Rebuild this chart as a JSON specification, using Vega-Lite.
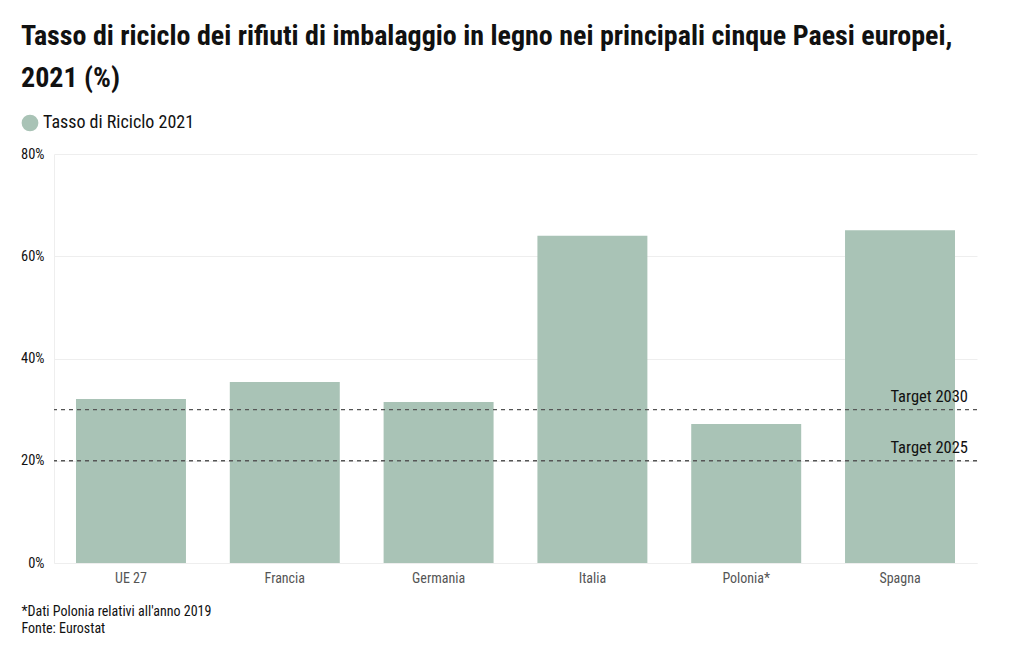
{
  "$schema": "https://vega.github.io/schema/vega-lite/v6.json",
  "width": 923,
  "height": 409,
  "autosize": {"type": "none"},
  "padding": {"left": 54, "top": 154, "right": 43, "bottom": 87},
  "background": "white",
  "config": {
    "font": "Roboto Condensed, Liberation Sans Narrow, DejaVu Sans Condensed, Roboto",
    "view": {"stroke": null}
  },
  "title": {
    "text": ["Tasso di riciclo dei rifiuti di imbalaggio in legno nei principali cinque Paesi europei,", "2021 (%)"],
    "anchor": "start",
    "frame": "group",
    "fontSize": 28,
    "fontWeight": "bold",
    "color": "#111111",
    "lineHeight": 42,
    "dx": -33,
    "offset": 21
  },
  "layer": [
    {
      "data": {
        "values": [
          {"paese": "UE 27", "tasso": 32.1, "serie": "Tasso di Riciclo 2021"},
          {"paese": "Francia", "tasso": 35.4, "serie": "Tasso di Riciclo 2021"},
          {"paese": "Germania", "tasso": 31.5, "serie": "Tasso di Riciclo 2021"},
          {"paese": "Italia", "tasso": 64.0, "serie": "Tasso di Riciclo 2021"},
          {"paese": "Polonia*", "tasso": 27.2, "serie": "Tasso di Riciclo 2021"},
          {"paese": "Spagna", "tasso": 65.1, "serie": "Tasso di Riciclo 2021"}
        ]
      },
      "mark": {"type": "bar"},
      "encoding": {
        "x": {
          "field": "paese",
          "type": "nominal",
          "sort": null,
          "scale": {"paddingInner": 0.285, "paddingOuter": 0.143},
          "axis": {
            "title": ["*Dati Polonia relativi all'anno 2019", "Fonte: Eurostat"],
            "titleAnchor": "start",
            "titleAlign": "left",
            "titleBaseline": "top",
            "titleX": -33,
            "titleY": 41,
            "titleFontSize": 14,
            "titleFontWeight": "normal",
            "titleColor": "#111111",
            "titleLineHeight": 17,
            "labelAngle": 0,
            "labelFontSize": 14,
            "labelColor": "#555555",
            "labelPadding": 8,
            "ticks": false,
            "domain": true,
            "domainColor": "#eeeeee"
          }
        },
        "y": {
          "field": "tasso",
          "type": "quantitative",
          "scale": {"domain": [0, 80]},
          "axis": {
            "title": null,
            "values": [0, 20, 40, 60, 80],
            "labelExpr": "datum.value + '%'",
            "labelFontSize": 14.5,
            "labelColor": "#111111",
            "labelPadding": 10,
            "ticks": false,
            "domain": true,
            "domainColor": "#eeeeee",
            "gridColor": "#eeeeee"
          }
        },
        "color": {
          "field": "serie",
          "type": "nominal",
          "scale": {"range": ["#a9c3b6"]},
          "legend": {
            "title": null,
            "orient": "none",
            "legendX": -33,
            "legendY": -40,
            "symbolType": "circle",
            "symbolSize": 280,
            "symbolStrokeWidth": 0,
            "symbolOpacity": 1,
            "labelFontSize": 18,
            "labelColor": "#111111",
            "labelOffset": 4
          }
        }
      }
    },
    {
      "data": {
        "values": [
          {"target": "Target 2030", "valore": 30},
          {"target": "Target 2025", "valore": 20}
        ]
      },
      "layer": [
        {
          "mark": {"type": "rule", "color": "#555555", "strokeDash": [4, 4], "strokeWidth": 1.3},
          "encoding": {"y": {"field": "valore", "type": "quantitative"}}
        },
        {
          "mark": {"type": "text", "align": "right", "baseline": "bottom", "dy": -5, "dx": 13, "fontSize": 16.5, "color": "#111111"},
          "encoding": {
            "x": {"datum": "Spagna", "type": "nominal", "bandPosition": 1},
            "y": {"field": "valore", "type": "quantitative"},
            "text": {"field": "target"}
          }
        }
      ]
    }
  ]
}
